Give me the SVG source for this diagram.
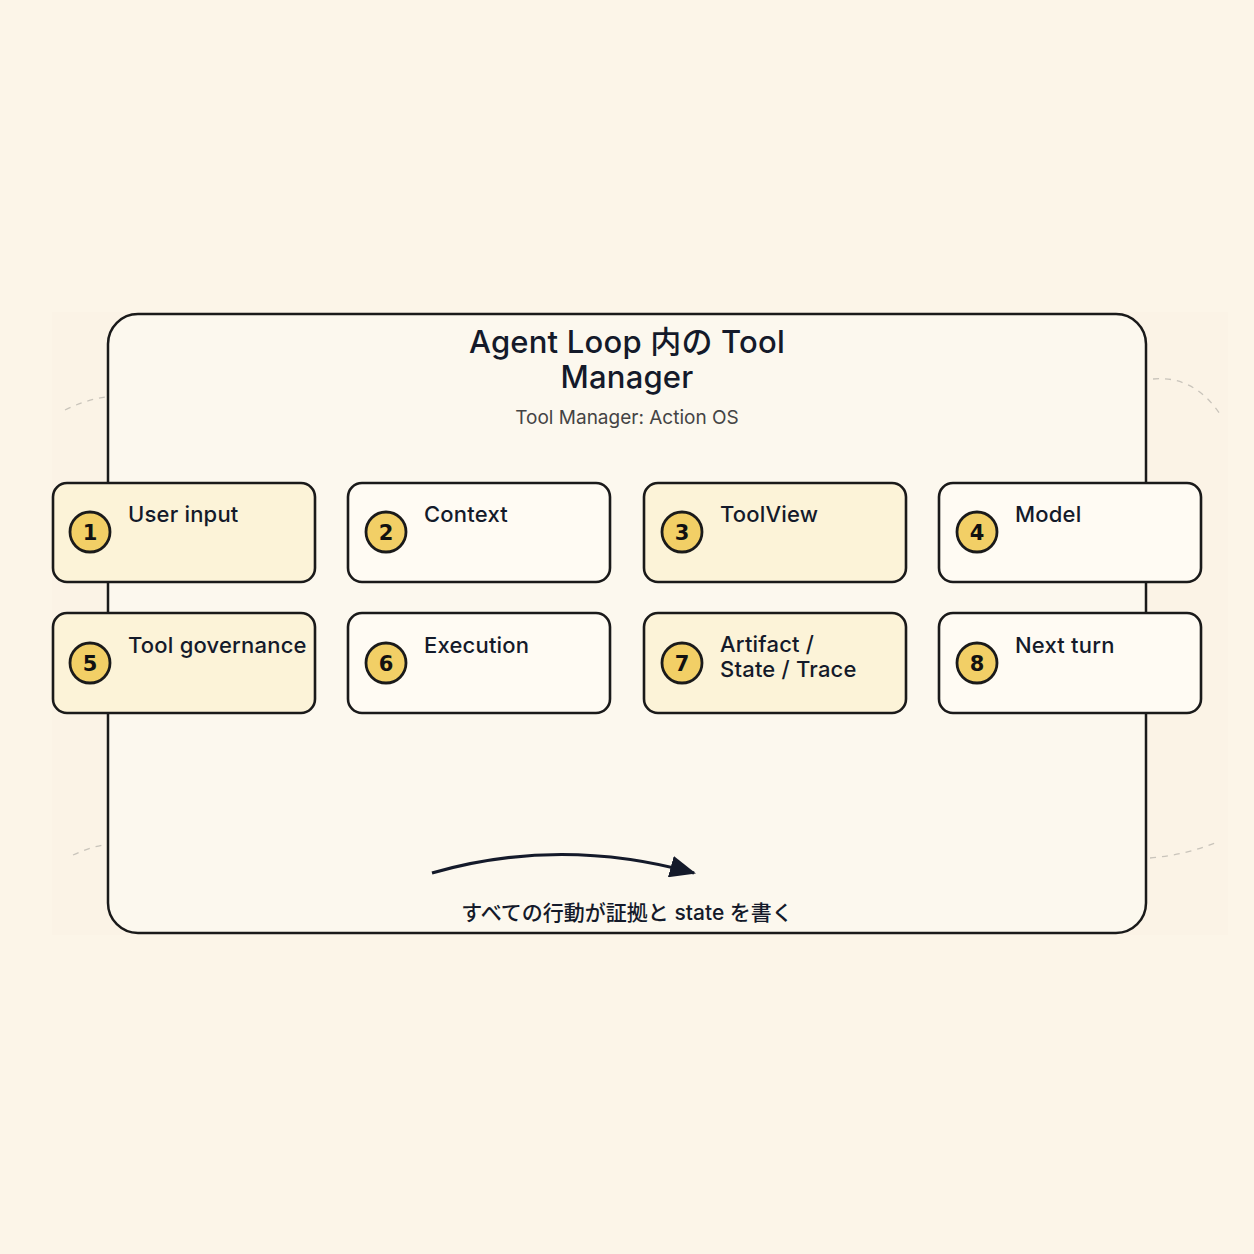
<svg xmlns="http://www.w3.org/2000/svg" width="1254" height="1254" viewBox="0 0 1254 1254">
<defs>
<style>
.frame{fill:#fcf8ee;stroke:#1a1a1a;stroke-width:2.5}
.node{stroke:#1a1a1a;stroke-width:2.6}
.y{fill:#fcf3d8}
.w{fill:#fffbf3}
.badge{fill:#f2cf66;stroke:#1a1a1a;stroke-width:2.8}
.num{font-family:"DejaVu Sans","Liberation Sans",sans-serif;font-weight:700;font-size:21px;fill:#111;text-anchor:middle}
.lbl{font-family:Inter,"Noto Sans",sans-serif;font-weight:500;font-size:22px;letter-spacing:0.2px;fill:#141a2a}
.title{font-family:Inter,"Noto Sans CJK JP",sans-serif;font-weight:500;font-size:31px;letter-spacing:0.2px;fill:#141a2a;text-anchor:middle}
.sub{font-family:Inter,"Noto Sans",sans-serif;font-size:19px;fill:#444;text-anchor:middle}
.cap{font-family:Inter,"Noto Sans CJK JP",sans-serif;font-weight:500;font-size:21px;fill:#141a2a;text-anchor:middle}
.dash{fill:none;stroke:#c9c4bb;stroke-width:1.3;stroke-dasharray:6 6}
</style>
<marker id="ah" viewBox="0 0 26 22" refX="24" refY="11" markerWidth="26" markerHeight="22" orient="auto" markerUnits="userSpaceOnUse">
<path d="M0,0 L26,11 L0,22 z" fill="#141a2a"/>
</marker>
</defs>
<rect width="1254" height="1254" fill="#fcf5e8"/>
<rect x="52" y="312" width="1176" height="623" fill="#fbf3e6"/>
<g id="decor">
<path class="dash" d="M65,410 Q85,400 105,397"/>
<path class="dash" d="M1153,379 Q1195,375 1222,417"/>
<path class="dash" d="M73,855 Q88,848 103,845"/>
<path class="dash" d="M1150,858 Q1185,855 1215,843"/>
</g>
<g id="frame">
<rect class="frame" x="108" y="314" width="1038" height="619" rx="30"/>
<text class="title" x="627" y="353">Agent Loop 内の Tool</text>
<text class="title" x="627" y="388">Manager</text>
<text class="sub" x="627" y="424">Tool Manager: Action OS</text>
</g>
<g id="connectors">
<path d="M432,873 Q560,836 694,873" fill="none" stroke="#141a2a" stroke-width="3.2" marker-end="url(#ah)"/>
</g>
<text class="cap" x="627" y="920">すべての行動が証拠と state を書く</text>
<g id="n1"><rect class="node y" x="53" y="483" width="262" height="99" rx="14"/><circle class="badge" cx="90" cy="532" r="20"/><text class="num" x="90" y="539.5">1</text><text class="lbl" x="128" y="522">User input</text></g>
<g id="n2"><rect class="node w" x="348" y="483" width="262" height="99" rx="14"/><circle class="badge" cx="386" cy="532" r="20"/><text class="num" x="386" y="539.5">2</text><text class="lbl" x="424" y="522">Context</text></g>
<g id="n3"><rect class="node y" x="644" y="483" width="262" height="99" rx="14"/><circle class="badge" cx="682" cy="532" r="20"/><text class="num" x="682" y="539.5">3</text><text class="lbl" x="720" y="522">ToolView</text></g>
<g id="n4"><rect class="node w" x="939" y="483" width="262" height="99" rx="14"/><circle class="badge" cx="977" cy="532" r="20"/><text class="num" x="977" y="539.5">4</text><text class="lbl" x="1015" y="522">Model</text></g>
<g id="n5"><rect class="node y" x="53" y="613" width="262" height="100" rx="14"/><circle class="badge" cx="90" cy="663" r="20"/><text class="num" x="90" y="670.5">5</text><text class="lbl" x="128" y="653">Tool governance</text></g>
<g id="n6"><rect class="node w" x="348" y="613" width="262" height="100" rx="14"/><circle class="badge" cx="386" cy="663" r="20"/><text class="num" x="386" y="670.5">6</text><text class="lbl" x="424" y="653">Execution</text></g>
<g id="n7"><rect class="node y" x="644" y="613" width="262" height="100" rx="14"/><circle class="badge" cx="682" cy="663" r="20"/><text class="num" x="682" y="670.5">7</text><text class="lbl" x="720" y="652">Artifact /</text><text class="lbl" x="720" y="677">State / Trace</text></g>
<g id="n8"><rect class="node w" x="939" y="613" width="262" height="100" rx="14"/><circle class="badge" cx="977" cy="663" r="20"/><text class="num" x="977" y="670.5">8</text><text class="lbl" x="1015" y="653">Next turn</text></g>
</svg>
